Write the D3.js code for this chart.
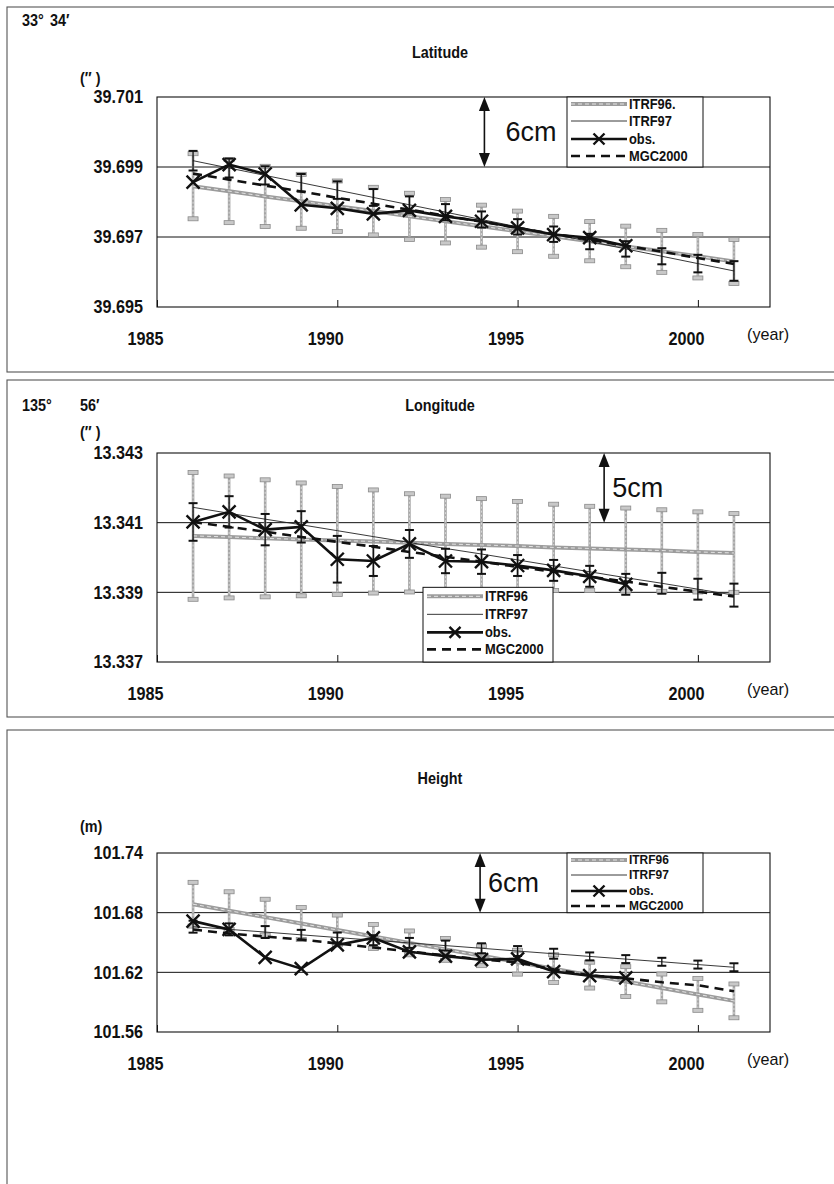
<!DOCTYPE html>
<html>
<head>
<meta charset="utf-8">
<script src="https://cdn.jsdelivr.net/npm/d3@7"></script>
<style>
body { margin: 0; background: #fff; }
text { font-family: 'Liberation Sans', Arial, sans-serif; fill: #111; }
</style>
</head>
<body>
<script>
// ---- data ----
const years = [1986,1987,1988,1989,1990,1991,1992,1993,1994,1995,1996,1997,1998,1999,2000,2001];
const obsYears = [1986,1987,1988,1989,1990,1991,1992,1993,1994,1995,1996,1997,1998];
const yearTicks = [1985,1990,1995,2000];

// latitude (seconds past 33deg 34')
const latTicks = [39.695,39.697,39.699,39.701];
const latObs = [39.69857,39.69907,39.69880,39.69792,39.69782,39.69766,39.69776,39.69759,39.69745,39.69726,39.69707,39.69698,39.69675];
const latItrf96 = [39.69845,39.69831,39.69816,39.69802,39.69788,39.69774,39.69759,39.69745,39.69731,39.69716,39.69702,39.69688,39.69673,39.69659,39.69645,39.69630];
const latItrf97 = [39.69918,39.69897,39.69876,39.69855,39.69834,39.69813,39.69792,39.69771,39.69750,39.69729,39.69708,39.69687,39.69666,39.69645,39.69624,39.69603];
const latMgc = [39.69881,39.69864,39.69847,39.69830,39.69812,39.69795,39.69778,39.69761,39.69744,39.69726,39.69709,39.69692,39.69675,39.69658,39.69640,39.69623];
const latErr96 = [0.00093,0.00090,0.00086,0.00077,0.00072,0.00068,0.00066,0.00062,0.00060,0.00058,0.00057,0.00056,0.00058,0.00060,0.00062,0.00063];
const latErr97 = [0.00028,0.00027,0.00026,0.00025,0.00025,0.00024,0.00024,0.00023,0.00023,0.00022,0.00022,0.00022,0.00022,0.00023,0.00025,0.00028];
const latErrObs = [];

// longitude (seconds past 135deg 56')
const lonTicks = [13.337,13.339,13.341,13.343];
const lonObs = [13.34102,13.34131,13.34080,13.34088,13.33995,13.33990,13.34039,13.33990,13.33988,13.33977,13.33963,13.33946,13.33923];
const lonItrf96 = [13.34062,13.34059,13.34055,13.34052,13.34049,13.34046,13.34042,13.34039,13.34036,13.34033,13.34029,13.34026,13.34023,13.34020,13.34016,13.34013];
const lonItrf97 = [13.34144,13.34127,13.34110,13.34094,13.34077,13.34060,13.34043,13.34026,13.34010,13.33993,13.33976,13.33959,13.33942,13.33926,13.33909,13.33892];
const lonMgc = [13.34102,13.34088,13.34074,13.34059,13.34045,13.34031,13.34016,13.34002,13.33988,13.33973,13.33959,13.33945,13.33931,13.33916,13.33902,13.33888];
const lonErr96 = [0.00182,0.00175,0.00168,0.00162,0.00155,0.00148,0.00141,0.00137,0.00133,0.00128,0.00124,0.00121,0.00119,0.00117,0.00115,0.00113];
const lonErr97 = [null,null,null,null,null,null,null,null,null,null,null,null,null,0.00030,0.00030,0.00033];
const lonErrObs = [0.00054,0.00045,0.00045,0.00045,0.00067,0.00043,0.00040,0.00035,0.00035,0.00030,0.00030,0.00030,0.00030];

// height (m)
const hgtTicks = [101.56,101.62,101.68,101.74];
const hgtObs = [101.6715,101.6631,101.6350,101.6237,101.6476,101.6546,101.6406,101.6363,101.6327,101.6335,101.6208,101.6166,101.6144];
const hgtItrf96 = [101.6885,101.6820,101.6755,101.6691,101.6626,101.6561,101.6496,101.6431,101.6367,101.6302,101.6237,101.6172,101.6107,101.6043,101.5978,101.5913];
const hgtItrf97 = [101.6659,101.6632,101.6605,101.6577,101.6550,101.6523,101.6496,101.6469,101.6442,101.6414,101.6387,101.6360,101.6333,101.6306,101.6278,101.6251];
const hgtMgc = [101.663,101.659,101.656,101.653,101.649,101.645,101.641,101.637,101.633,101.630,101.623,101.617,101.614,101.610,101.607,101.601];
const hgtErr96 = [0.022,0.019,0.018,0.016,0.015,0.012,0.012,0.011,0.010,0.012,0.014,0.013,0.015,0.014,0.016,0.017];
const hgtErr97 = [0.006,0.006,0.006,0.005,0.005,0.005,0.005,0.005,0.005,0.005,0.005,0.004,0.004,0.004,0.004,0.004];
const hgtErrObs = [];

const legendA = ['ITRF96.', 'ITRF97', 'obs.', 'MGC2000'];
const legendB = ['ITRF96', 'ITRF97', 'obs.', 'MGC2000'];

// ---- layout ----
const w = 834, h = 1184;
const xScale = d3.scaleLinear().domain([1985, 2002]).range([157, 770]);

const svg = d3.select('body').append('svg').attr('width', w).attr('height', h);

const panels = [
  { frame: [7, 372], top: 97, bottom: 307, ticks: latTicks, fmt: '.3f',
    title: 'Latitude', titleY: 52, deg: ['33°', '34′'], degX: [22, 50], degY: 20,
    unit: '(″ )', unitY: 78,
    obs: latObs, i96: latItrf96, i97: latItrf97, mgc: latMgc,
    e96: latErr96, e97: latErr97, eObs: latErrObs,
    arrowYear: 1994.08, cmGap: 21, cm: '6cm',
    legend: legendA, legX: 567, legW: 136, legTop: 'top', legRows: [7, 24, 42, 59], legFont: 14 },
  { frame: [380, 717], top: 453, bottom: 662, ticks: lonTicks, fmt: '.3f',
    title: 'Longitude', titleY: 405, deg: ['135°', '56′'], degX: [22, 80], degY: 405,
    unit: '(″ )', unitY: 432,
    obs: lonObs, i96: lonItrf96, i97: lonItrf97, mgc: lonMgc,
    e96: lonErr96, e97: lonErr97, eObs: lonErrObs,
    arrowYear: 1997.4, cmGap: 8, cm: '5cm',
    legend: legendB, legX: 423, legW: 130, legTop: 'low', legRows: [9, 27, 45, 62], legFont: 14 },
  { frame: [730, 1200], top: 853, bottom: 1032, ticks: hgtTicks, fmt: '.2f',
    title: 'Height', titleY: 778, deg: null,
    unit: '(m)', unitY: 826,
    obs: hgtObs, i96: hgtItrf96, i97: hgtItrf97, mgc: hgtMgc,
    e96: hgtErr96, e97: hgtErr97, eObs: hgtErrObs,
    arrowYear: 1993.96, cmGap: 8, cm: '6cm',
    legend: legendB, legX: 567, legW: 136, legTop: 'top', legRows: [7, 22, 38, 53], legFont: 13 }
];

function label(g, x, y, s, size, opts = {}) {
  g.append('g').attr('transform', `translate(${x},${y}) scale(${opts.sx || 1},1)`)
    .append('text').attr('dominant-baseline', 'central')
    .attr('text-anchor', opts.anchor || 'start')
    .style('font-size', size + 'px').style('font-weight', opts.bold ? 'bold' : 'normal')
    .text(s);
}

function drawItrf96(g, path) {
  g.append('path').attr('d', path).attr('fill', 'none').attr('stroke', '#9c9c9c').attr('stroke-width', 4);
  g.append('path').attr('d', path).attr('fill', 'none').attr('stroke', '#e4e4e4').attr('stroke-width', 1).attr('stroke-dasharray', '4,3');
}

function xMark(g, cx, cy, r) {
  g.append('path')
    .attr('d', `M${cx - r},${cy - r}L${cx + r},${cy + r}M${cx - r},${cy + r}L${cx + r},${cy - r}`)
    .attr('stroke', '#111').attr('stroke-width', 2.4).attr('fill', 'none');
}

function errBars(g, yrs, vals, errs, y, grey) {
  yrs.forEach((yr, i) => {
    const e = errs[i];
    if (e == null) return;
    const cx = xScale(yr), y1 = y(vals[i] + e), y2 = y(vals[i] - e);
    if (grey) {
      g.append('line').attr('x1', cx).attr('x2', cx).attr('y1', y1).attr('y2', y2)
        .attr('stroke', '#a6a6a6').attr('stroke-width', 2.6);
      g.append('line').attr('x1', cx).attr('x2', cx).attr('y1', y1).attr('y2', y2)
        .attr('stroke', '#e6e6e6').attr('stroke-width', 0.8).attr('stroke-dasharray', '2,2');
      [y1, y2].forEach(cy => g.append('rect').attr('x', cx - 5).attr('y', cy - 2).attr('width', 10).attr('height', 4)
        .attr('fill', '#c8c8c8').attr('stroke', '#8a8a8a').attr('stroke-width', 0.8));
    } else {
      g.append('line').attr('x1', cx).attr('x2', cx).attr('y1', y1).attr('y2', y2)
        .attr('stroke', '#111').attr('stroke-width', 1.3);
      [y1, y2].forEach(cy => g.append('line').attr('x1', cx - 4.5).attr('x2', cx + 4.5).attr('y1', cy).attr('y2', cy)
        .attr('stroke', '#111').attr('stroke-width', 2));
    }
  });
}

panels.forEach(p => {
  const y = d3.scaleLinear().domain([p.ticks[0], p.ticks[p.ticks.length - 1]]).range([p.bottom, p.top]);
  const g = svg.append('g');

  // outer frame of the panel
  g.append('rect').attr('x', 7).attr('y', p.frame[0]).attr('width', 840).attr('height', p.frame[1] - p.frame[0])
    .attr('fill', 'none').attr('stroke', '#555').attr('stroke-width', 1.1);

  // header texts
  if (p.deg) p.deg.forEach((t, i) => label(g, p.degX[i], p.degY, t, 16, { bold: true, sx: 0.9 }));
  label(g, 440, p.titleY, p.title, 16, { bold: true, sx: 0.9, anchor: 'middle' });
  label(g, 80, p.unitY, p.unit, 16, { bold: true, sx: 0.9 });

  // grid lines
  p.ticks.slice(1, -1).forEach(t => g.append('line')
    .attr('x1', xScale(1985)).attr('x2', xScale(2002)).attr('y1', y(t)).attr('y2', y(t))
    .attr('stroke', '#111').attr('stroke-width', 1));

  // plot border
  g.append('rect').attr('x', xScale(1985)).attr('y', p.top)
    .attr('width', xScale(2002) - xScale(1985)).attr('height', p.bottom - p.top)
    .attr('fill', 'none').attr('stroke', '#111').attr('stroke-width', 1.1);

  // axes
  const yAxis = d3.axisLeft(y).tickValues(p.ticks).tickSize(0).tickPadding(0).tickFormat(d3.format(p.fmt));
  const ya = g.append('g').attr('transform', 'translate(143,0)').call(yAxis);
  ya.select('.domain').remove();
  ya.selectAll('text').attr('transform', 'scale(0.9,1)').style('font-size', '18px').style('font-weight', 'bold');

  const xAxis = d3.axisBottom(xScale).tickValues(yearTicks).tickSize(-7).tickPadding(25).tickFormat(d3.format('d'));
  const xa = g.append('g').attr('transform', `translate(0,${p.bottom})`).call(xAxis);
  xa.select('.domain').remove();
  xa.selectAll('line').attr('stroke', '#111');
  xa.selectAll('text').attr('transform', 'translate(-12,0) scale(0.9,1)').style('font-size', '18px').style('font-weight', 'bold');

  label(g, 747, p.bottom + 27, '(year)', 17, { sx: 0.95 });

  const line = yrs => d3.line().x((d, i) => xScale(yrs[i])).y(d => y(d));

  // series
  errBars(g, years, p.i96, p.e96, y, true);
  drawItrf96(g, line(years)(p.i96));
  g.append('path').attr('d', line(years)(p.i97)).attr('fill', 'none').attr('stroke', '#222').attr('stroke-width', 0.9);
  errBars(g, years, p.i97, p.e97, y, false);
  g.append('path').attr('d', line(years)(p.mgc)).attr('fill', 'none').attr('stroke', '#111')
    .attr('stroke-width', 2.6).attr('stroke-dasharray', '9,6');
  errBars(g, obsYears, p.obs, p.eObs, y, false);
  g.append('path').attr('d', line(obsYears)(p.obs)).attr('fill', 'none').attr('stroke', '#111').attr('stroke-width', 2.6);
  p.obs.forEach((v, i) => xMark(g, xScale(obsYears[i]), y(v), 6.5));

  // distance arrow
  const ax = xScale(p.arrowYear), at = y(p.ticks[3]), ab = y(p.ticks[2]);
  g.append('line').attr('x1', ax).attr('x2', ax).attr('y1', at + 10).attr('y2', ab - 10)
    .attr('stroke', '#111').attr('stroke-width', 1.6);
  g.append('path').attr('d', `M${ax},${at}L${ax - 5.5},${at + 14}L${ax + 5.5},${at + 14}Z`).attr('fill', '#111');
  g.append('path').attr('d', `M${ax},${ab}L${ax - 5.5},${ab - 14}L${ax + 5.5},${ab - 14}Z`).attr('fill', '#111');
  label(g, ax + p.cmGap, (at + ab) / 2, p.cm, 27);

  // legend
  const lg = g.append('g');
  let ly0, ly1;
  if (p.legTop === 'low') { ly0 = y(p.ticks[1]) - 5; ly1 = p.bottom; }
  else { ly0 = p.top; ly1 = y(p.ticks[2]); }
  lg.append('rect').attr('x', p.legX).attr('y', ly0).attr('width', p.legW).attr('height', ly1 - ly0)
    .attr('fill', '#fff').attr('stroke', '#111').attr('stroke-width', 1);
  const sx0 = p.legX + 4, sx1 = p.legX + 60;
  p.legend.forEach((name, i) => {
    const ry = ly0 + p.legRows[i];
    const seg = `M${sx0},${ry}L${sx1},${ry}`;
    if (i === 0) drawItrf96(lg, seg);
    if (i === 1) lg.append('path').attr('d', seg).attr('stroke', '#222').attr('stroke-width', 0.9);
    if (i === 2) {
      lg.append('path').attr('d', seg).attr('stroke', '#111').attr('stroke-width', 2.6);
      xMark(lg, (sx0 + sx1) / 2, ry, 5.5);
    }
    if (i === 3) lg.append('path').attr('d', seg).attr('stroke', '#111').attr('stroke-width', 2.6).attr('stroke-dasharray', '9,6');
    label(lg, sx1 + 2, ry, name, p.legFont, { bold: true, sx: 0.92 });
  });
});
</script>
</body>
</html>
